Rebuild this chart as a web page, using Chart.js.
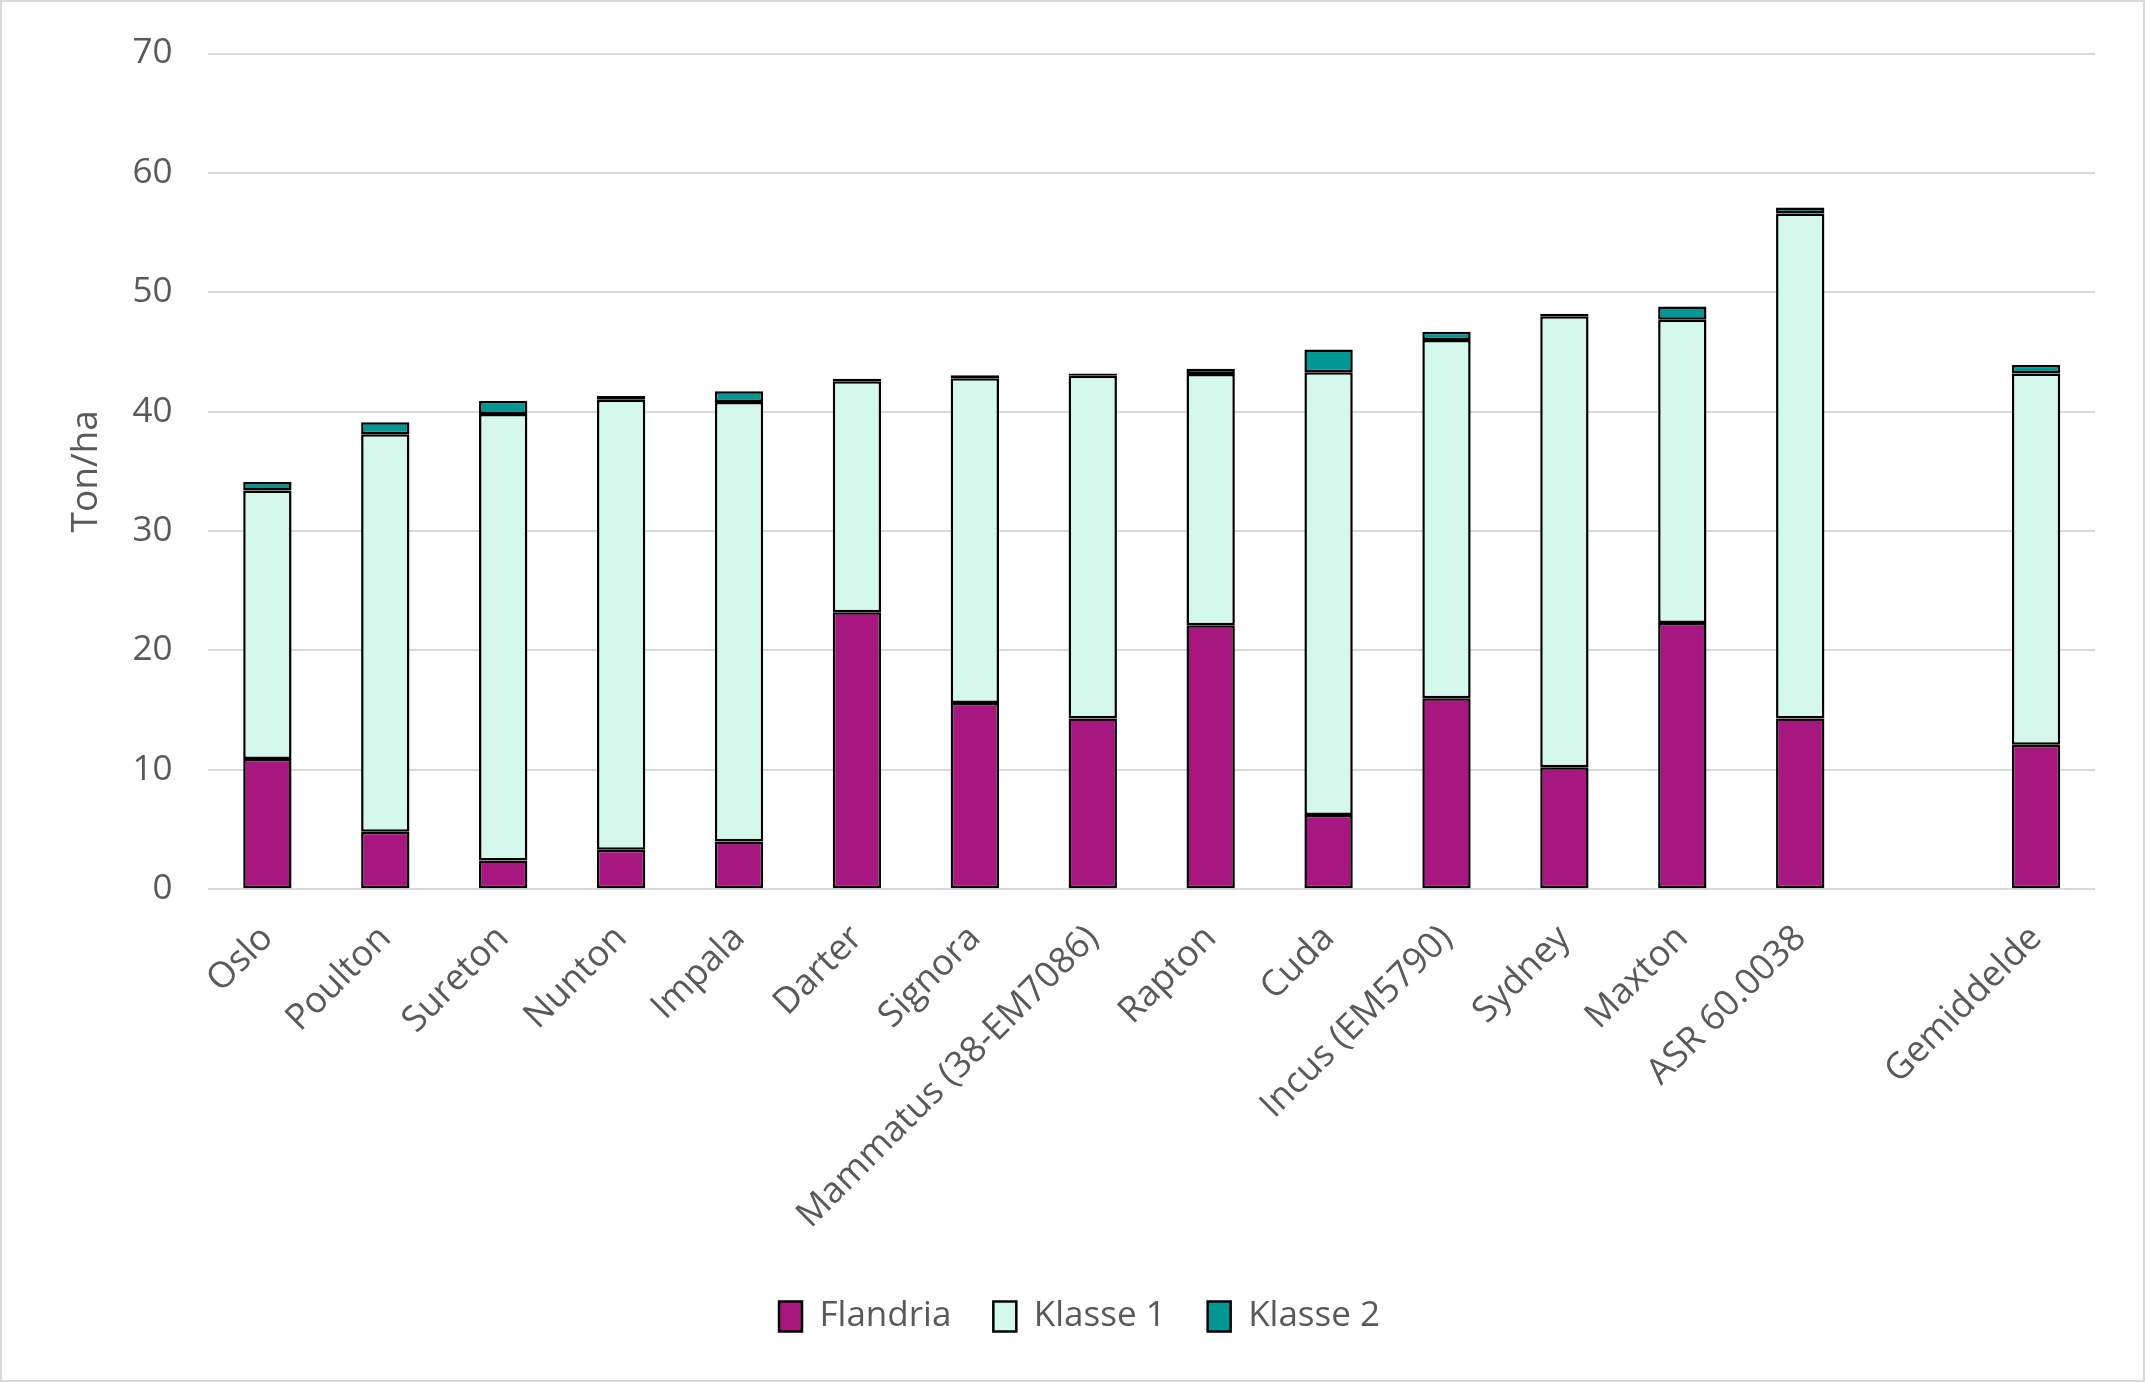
<!DOCTYPE html>
<html lang="nl">
<head>
  <meta charset="UTF-8" />
  <title>Opbrengst per ras</title>
  <style>
    body { margin: 0; background: #fff; }
    #wrap { width: 2145px; height: 1382px; }
  </style>
</head>
<body>
  <div id="wrap"><canvas id="chart" width="2145" height="1382"></canvas></div>
  <script src="https://cdn.jsdelivr.net/npm/chart.js"></script>
  <script>
    const rassen = ["Oslo", "Poulton", "Sureton", "Nunton", "Impala", "Darter", "Signora",
      "Mammatus (38-EM7086)", "Rapton", "Cuda", "Incus (EM5790)", "Sydney", "Maxton",
      "ASR 60.0038", "", "Gemiddelde"];
    const flandria = [10.9, 4.8, 2.4, 3.3, 4.0, 23.2, 15.6, 14.3, 22.1, 6.2, 16.0, 10.2, 22.3, 14.3, null, 12.1];
    const klasse1 = [22.5, 33.3, 37.4, 37.7, 36.8, 19.35, 27.2, 28.7, 21.05, 37.1, 30.0, 37.8, 25.4, 42.3, null, 31.1];
    const klasse2 = [0.7, 1.0, 1.1, 0.3, 0.9, 0.2, 0.25, 0.2, 0.45, 1.9, 0.7, 0.2, 1.1, 0.5, null, 0.7];
    const yTicks = [0, 10, 20, 30, 40, 50, 60, 70];

    const grijs = "#595959";
    const fontFam = "'Open Sans', 'Noto Sans', sans-serif";

    const achtergrond = {
      id: "achtergrond",
      beforeDraw(chart) {
        const c = chart.ctx;
        c.save();
        c.fillStyle = "#fff";
        c.fillRect(0, 0, chart.width, chart.height);
        c.strokeStyle = "#d9d9d9";
        c.lineWidth = 2;
        c.strokeRect(1, 1, chart.width - 2, chart.height - 2);
        c.restore();
      }
    };

    function reeks(label, data, kleur) {
      return {
        label: label,
        data: data,
        backgroundColor: kleur,
        borderColor: "#000",
        borderWidth: 2.5,
        borderSkipped: false,
        barPercentage: 0.41,
        categoryPercentage: 1.0
      };
    }

    new Chart(document.getElementById("chart"), {
      type: "bar",
      data: {
        labels: rassen,
        datasets: [
          reeks("Flandria", flandria, "#a7177f"),
          reeks("Klasse 1", klasse1, "#d4f8ec"),
          reeks("Klasse 2", klasse2, "#009794")
        ]
      },
      options: {
        responsive: false,
        animation: false,
        devicePixelRatio: 1,
        layout: { padding: { left: 64, right: 50, top: 20, bottom: 38 } },
        plugins: {
          legend: {
            position: "bottom",
            labels: {
              color: grijs,
              font: { family: fontFam, size: 35 },
              boxWidth: 23,
              boxHeight: 30,
              padding: 42
            }
          },
          tooltip: { enabled: false }
        },
        scales: {
          x: {
            stacked: true,
            grid: { display: false },
            border: { display: false },
            ticks: {
              color: grijs,
              font: { family: fontFam, size: 36 },
              minRotation: 45,
              maxRotation: 45,
              autoSkip: false,
              padding: 20
            }
          },
          y: {
            stacked: true,
            min: 0,
            max: 70,
            afterBuildTicks(axis) {
              axis.ticks = yTicks.map(v => ({ value: v }));
            },
            grid: { color: "#d9d9d9", lineWidth: 2, drawTicks: false },
            border: { display: false },
            ticks: {
              color: grijs,
              font: { family: fontFam, size: 35, lineHeight: 1.0 },
              padding: 36
            },
            title: {
              display: true,
              text: "Ton/ha",
              color: grijs,
              font: { family: fontFam, size: 37 },
              padding: { top: 0, bottom: -12 }
            }
          }
        }
      },
      plugins: [achtergrond]
    });
  </script>
</body>
</html>
